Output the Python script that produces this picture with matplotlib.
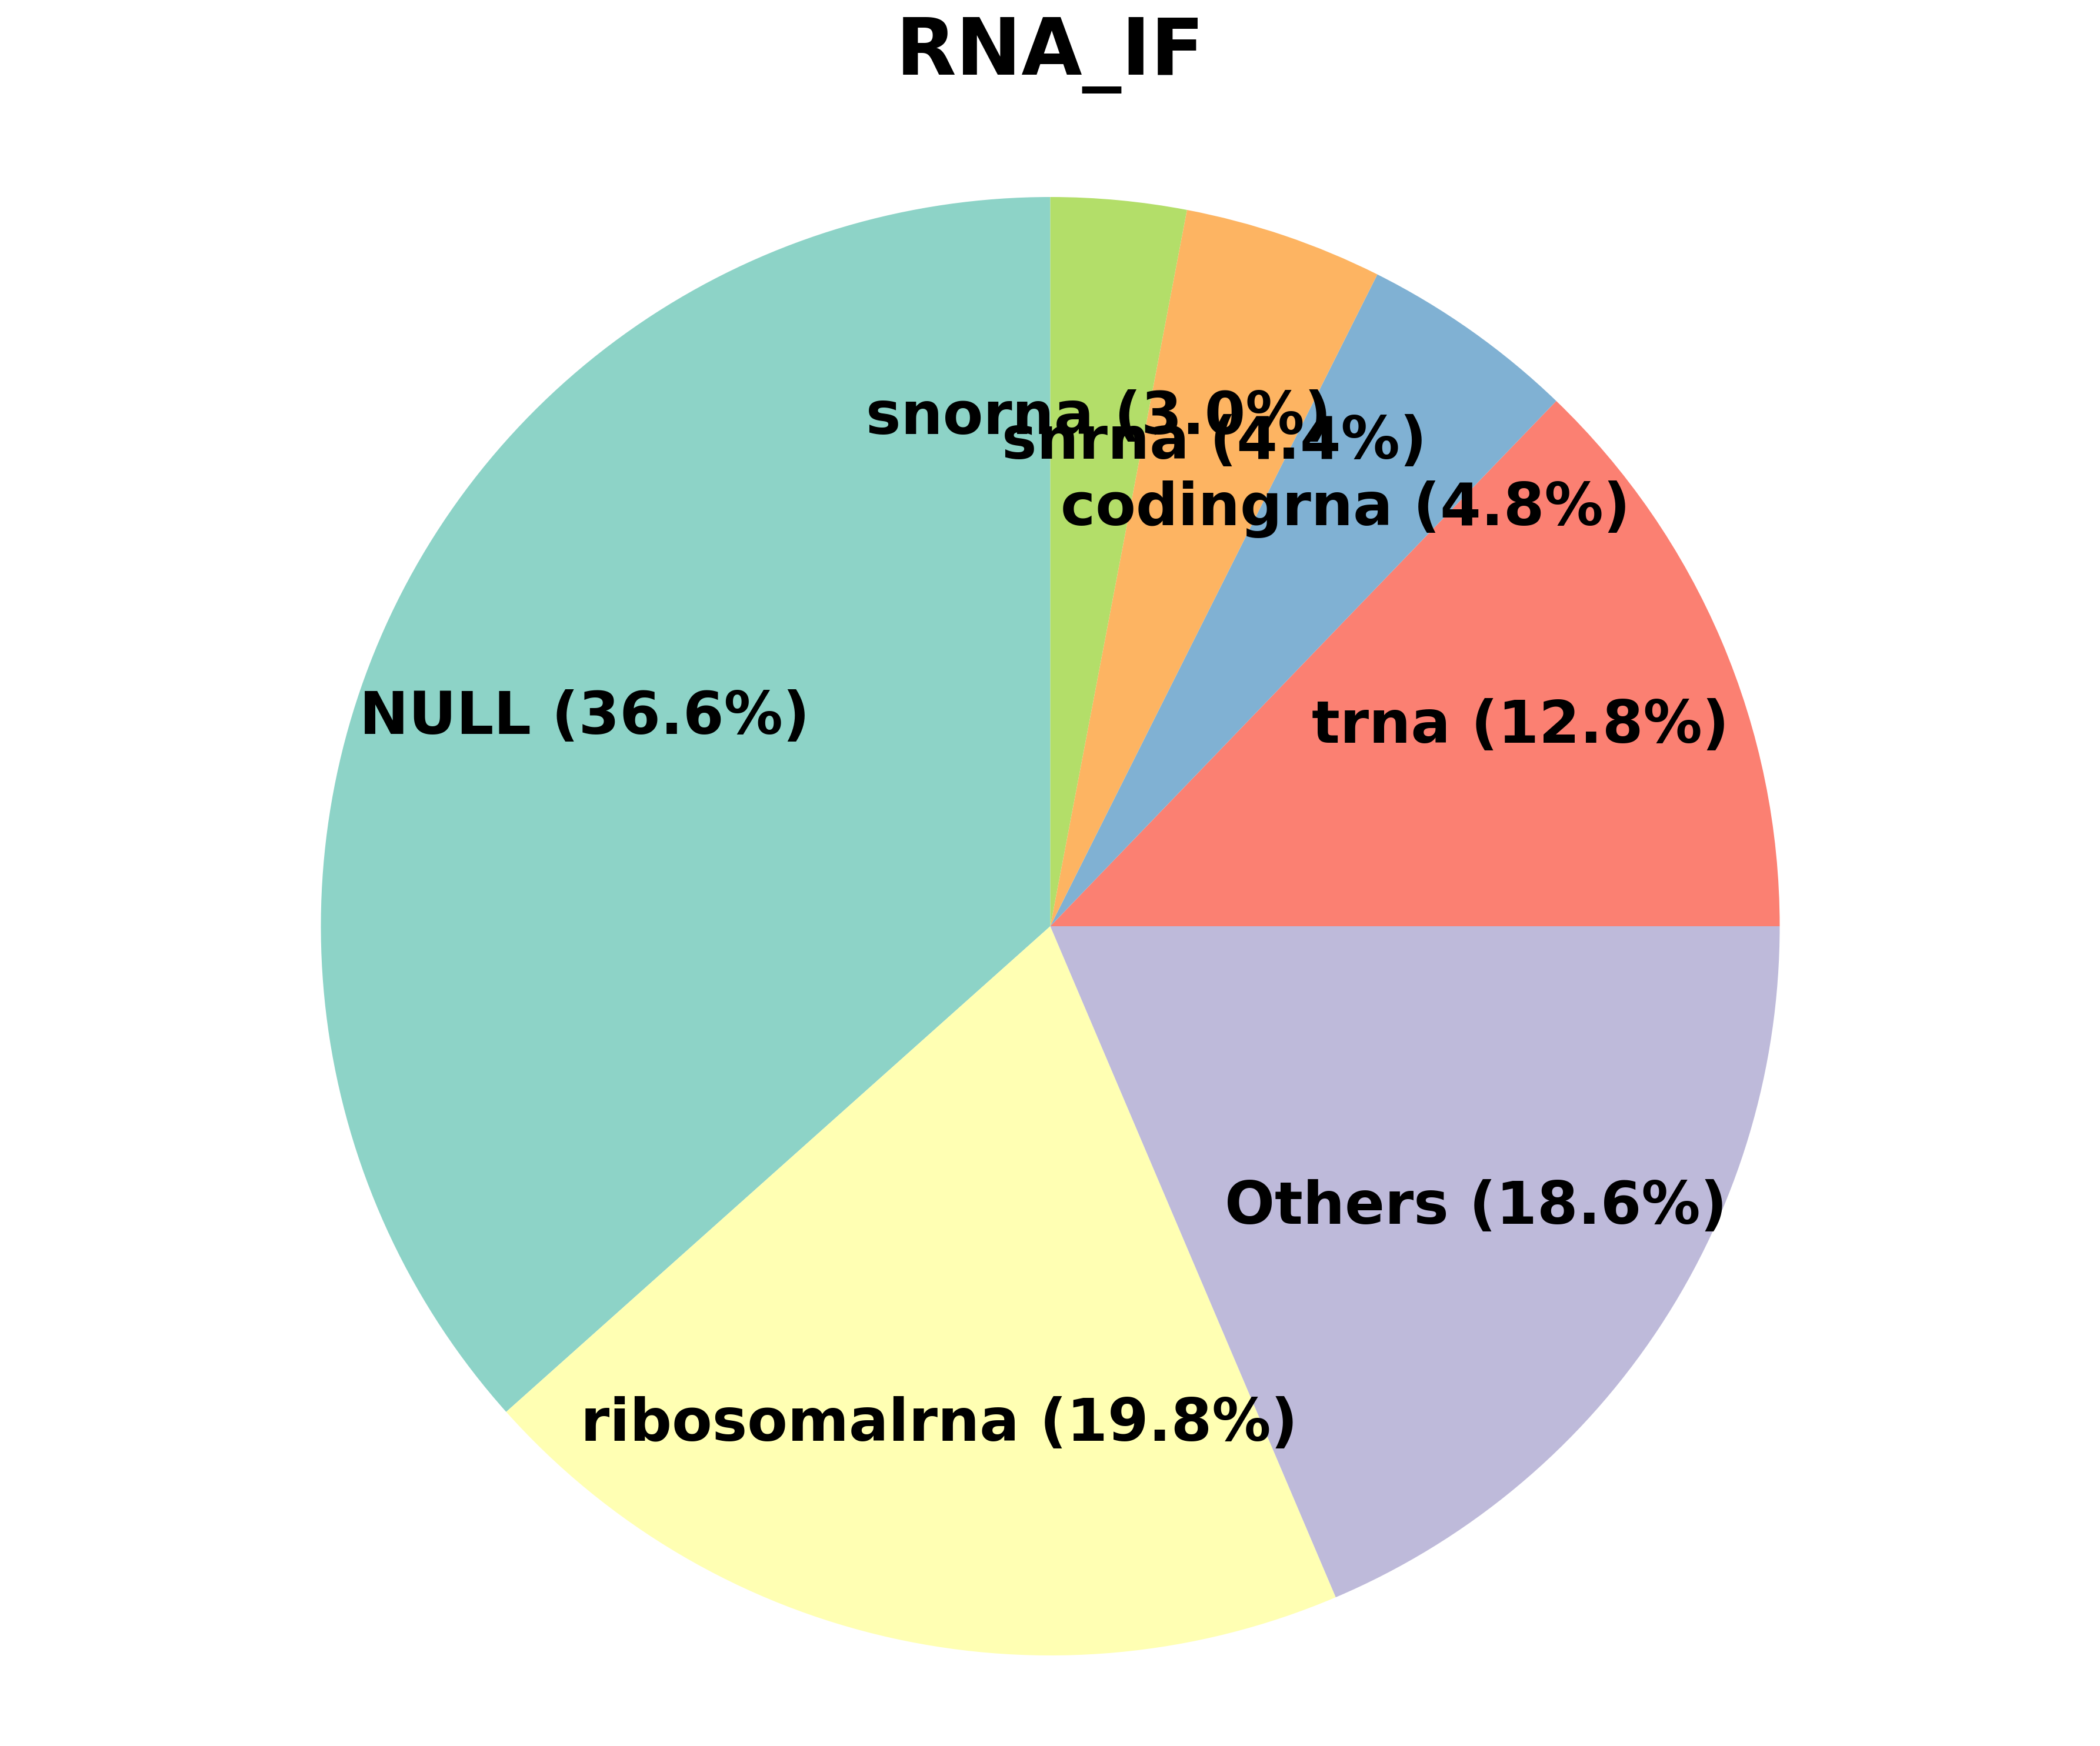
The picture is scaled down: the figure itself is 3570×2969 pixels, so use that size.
import numpy as np
import matplotlib
matplotlib.use("Agg")
import matplotlib.pyplot as plt

# RNA class shares (percent), in drawing order from 12 o'clock, counterclockwise
categories = ["NULL", "ribosomalrna", "Others", "trna", "codingrna", "snrna", "snorna"]
shares = [36.6, 19.8, 18.6, 12.8, 4.8, 4.4, 3.0]
title = "RNA_IF"


def main():
    W, H, dpi = 3570, 2969, 300
    fig = plt.figure(figsize=(W / dpi, H / dpi), dpi=dpi)

    # pie centre / radius in pixels
    cx, cy, r = 1785.5, H - 1575, 1240
    ax = fig.add_axes([(cx - r) / W, (cy - r) / H, 2 * r / W, 2 * r / H])

    colors = plt.get_cmap("Set3").colors[:len(categories)]
    total = sum(shares)
    labels = [f"{c} ({v / total * 100:.1f}%)" for c, v in zip(categories, shares)]

    wedges, texts = ax.pie(shares, labels=labels, colors=colors, startangle=90,
                           labeldistance=0.7,
                           textprops={"fontsize": 24, "fontweight": "bold"})
    for t in texts:
        t.set_ha("center")

    ax.set_xlim(-1, 1)
    ax.set_ylim(-1, 1)
    ax.set_aspect("equal")
    ax.set_title(title, fontsize=32, fontweight="bold", pad=50)

    fig.savefig("out.png", dpi=dpi)


if __name__ == "__main__":
    main()
